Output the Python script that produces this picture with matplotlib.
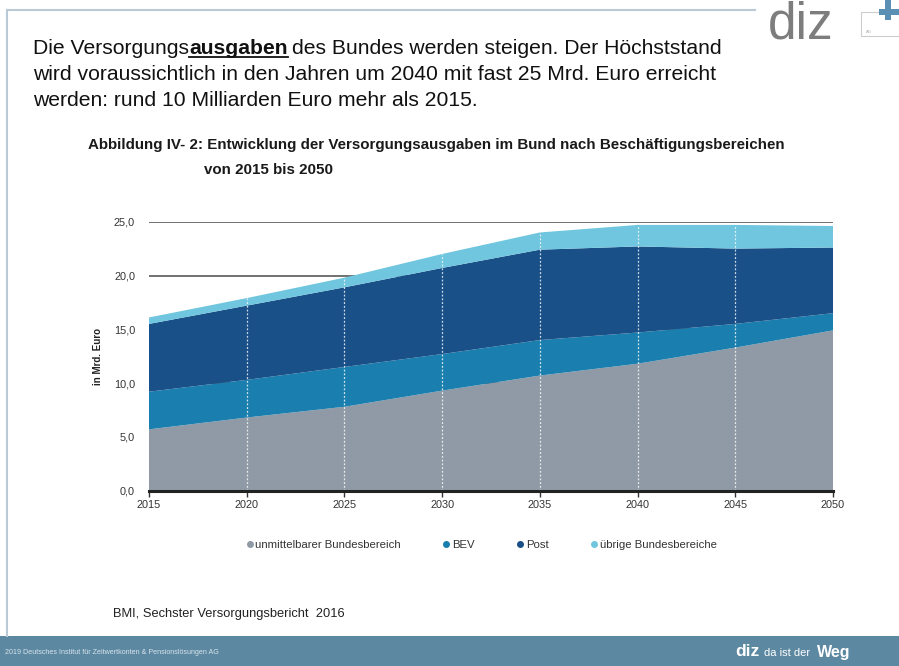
import matplotlib
matplotlib.use("Agg")
import matplotlib.pyplot as plt
from matplotlib.lines import Line2D
from matplotlib.patches import Rectangle

years = [2015, 2020, 2025, 2030, 2035, 2040, 2045, 2050]
unmittelbar = [5.7, 6.8, 7.8, 9.3, 10.7, 11.8, 13.3, 14.9]
bev = [3.5, 3.5, 3.7, 3.4, 3.3, 2.9, 2.2, 1.6]
post = [6.3, 6.9, 7.4, 8.0, 8.4, 8.0, 7.0, 6.1]
uebrige = [0.6, 0.7, 0.9, 1.3, 1.6, 2.0, 2.2, 2.0]
series_labels = ["unmittelbarer Bundesbereich", "BEV", "Post", "übrige Bundesbereiche"]
yticks = [0, 5, 10, 15, 20, 25]
ytick_labels = ["0,0", "5,0", "10,0", "15,0", "20,0", "25,0"]

colors = ["#8f9aa6", "#1a7fae", "#1a5088", "#6fc6de"]

plt.rcParams['font.family'] = ['Liberation Sans', 'DejaVu Sans']

fig = plt.figure(figsize=(8.99, 6.66), dpi=100)
W, H = 899, 666

def fx(px):
    return px / W

def fy(py):
    return 1 - py / H

# frame lines
fig.add_artist(Line2D([fx(7), fx(755)], [fy(10), fy(10)], color="#b9c9d5", lw=1.5))
fig.add_artist(Line2D([fx(7), fx(7)], [fy(10), fy(636)], color="#b9c9d5", lw=1.5))

# footer band
fig.add_artist(Rectangle((0, 0), 1, fy(636), transform=fig.transFigure,
                         facecolor="#5c88a1", edgecolor="none"))
fig.text(fx(5), fy(652), "2019 Deutsches Institut für Zeitwertkonten & Pensionslösungen AG",
         color="#d8e4ec", fontsize=5.1, va="center", ha="left")
fig.text(fx(735), fy(651), "diz", color="white", fontsize=12.5, fontweight="bold",
         va="center", ha="left")
fig.text(fx(764), fy(653), "da ist der", color="white", fontsize=8,
         va="center", ha="left")
fig.text(fx(817), fy(652), "Weg", color="white", fontsize=11.5, fontweight="bold",
         va="center", ha="left")

# logo top right
fig.text(fx(768), fy(0.5), "diz", color="#7d7d7d", fontsize=37, va="top", ha="left")
fig.add_artist(Rectangle((fx(861), fy(36)), fx(40), 24 / H, transform=fig.transFigure,
                         facecolor="none", edgecolor="#cccccc", lw=0.8))
fig.text(fx(866), fy(33), "AG", color="#aaaaaa", fontsize=3, va="baseline", ha="left")
fig.add_artist(Rectangle((fx(885), fy(20)), fx(6), 20 / H, transform=fig.transFigure,
                         facecolor="#5b8fb3", edgecolor="none"))
fig.add_artist(Rectangle((fx(879), fy(15)), fx(20), 6 / H, transform=fig.transFigure,
                         facecolor="#5b8fb3", edgecolor="none"))

# header text
hs = 15.2
t1 = fig.text(fx(33), fy(54), "Die Versorgungs", fontsize=hs, ha="left", va="baseline",
              color="#111111")
fig.canvas.draw()
r = fig.canvas.get_renderer()
bb = t1.get_window_extent(r)
xb = bb.x1 / W
t2 = fig.text(xb, fy(54), "ausgaben", fontsize=hs, fontweight="bold", ha="left",
              va="baseline", color="#111111")
bb2 = t2.get_window_extent(r)
fig.add_artist(Line2D([bb2.x0 / W, bb2.x1 / W], [fy(57), fy(57)], color="#111111", lw=1.3))
fig.text(bb2.x1 / W + 0.005, fy(54), "des Bundes werden steigen. Der Höchststand",
         fontsize=hs, ha="left", va="baseline", color="#111111")
fig.text(fx(33), fy(80), "wird voraussichtlich in den Jahren um 2040 mit fast 25 Mrd. Euro erreicht",
         fontsize=hs, ha="left", va="baseline", color="#111111")
fig.text(fx(33), fy(106), "werden: rund 10 Milliarden Euro mehr als 2015.",
         fontsize=hs, ha="left", va="baseline", color="#111111")

# chart title
ts = 10.9
fig.text(fx(88), fy(149), "Abbildung IV- 2: Entwicklung der Versorgungsausgaben im Bund nach Beschäftigungsbereichen",
         fontsize=ts, fontweight="bold", ha="left", va="baseline", color="#1a1a1a")
fig.text(fx(204), fy(174), "von 2015 bis 2050",
         fontsize=ts, fontweight="bold", ha="left", va="baseline", color="#1a1a1a")

# axes
ax = fig.add_axes([fx(149), fy(490.7), fx(833) - fx(149), (490.7 - 221.7) / H])
ax.set_axisbelow(True)
ax.stackplot(years, unmittelbar, bev, post, uebrige, colors=colors,
             labels=series_labels, zorder=2, linewidth=0)
totals = [a + b + c + d for a, b, c, d in zip(unmittelbar, bev, post, uebrige)]
ax.vlines(years[1:-1], 0, totals[1:-1], colors="white", linestyles=(0, (1.5, 1.5)),
          lw=0.9, alpha=0.8, zorder=3)
ax.set_xlim(years[0], years[-1])
ax.set_ylim(0, 25)
ax.set_yticks(yticks)
ax.set_yticklabels(ytick_labels)
ax.set_xticks(years)
ax.set_xticklabels([str(y) for y in years])
ax.yaxis.grid(True, color="#666666", lw=1.3, zorder=0)
for s in ["top", "right", "left"]:
    ax.spines[s].set_visible(False)
ax.spines["bottom"].set_color("#222222")
ax.spines["bottom"].set_linewidth(2.2)
ax.spines["bottom"].set_zorder(4)
ax.tick_params(axis="y", length=0, pad=10, labelsize=7.8, labelcolor="#333333")
ax.tick_params(axis="x", length=4, width=1, color="#333333", pad=3, labelsize=7.8,
               labelcolor="#333333", direction="out")
ax.set_ylabel("in Mrd. Euro", fontsize=7, fontweight="bold", color="#222222", labelpad=8)

# legend
handles = [Line2D([0], [0], marker="o", linestyle="none", markersize=4,
                  markerfacecolor=c, markeredgecolor=c) for c in colors]
fig.legend(handles, series_labels, loc="center", bbox_to_anchor=(fx(481), fy(545)),
           ncol=4, frameon=False, fontsize=8.2, handletextpad=0.1, columnspacing=3.6,
           handlelength=0.8, labelcolor="#333333")

# source
fig.text(fx(113), fy(617), "BMI, Sechster Versorgungsbericht  2016", fontsize=9.3,
         ha="left", va="baseline", color="#222222")

fig.savefig("out.png", dpi=100)
